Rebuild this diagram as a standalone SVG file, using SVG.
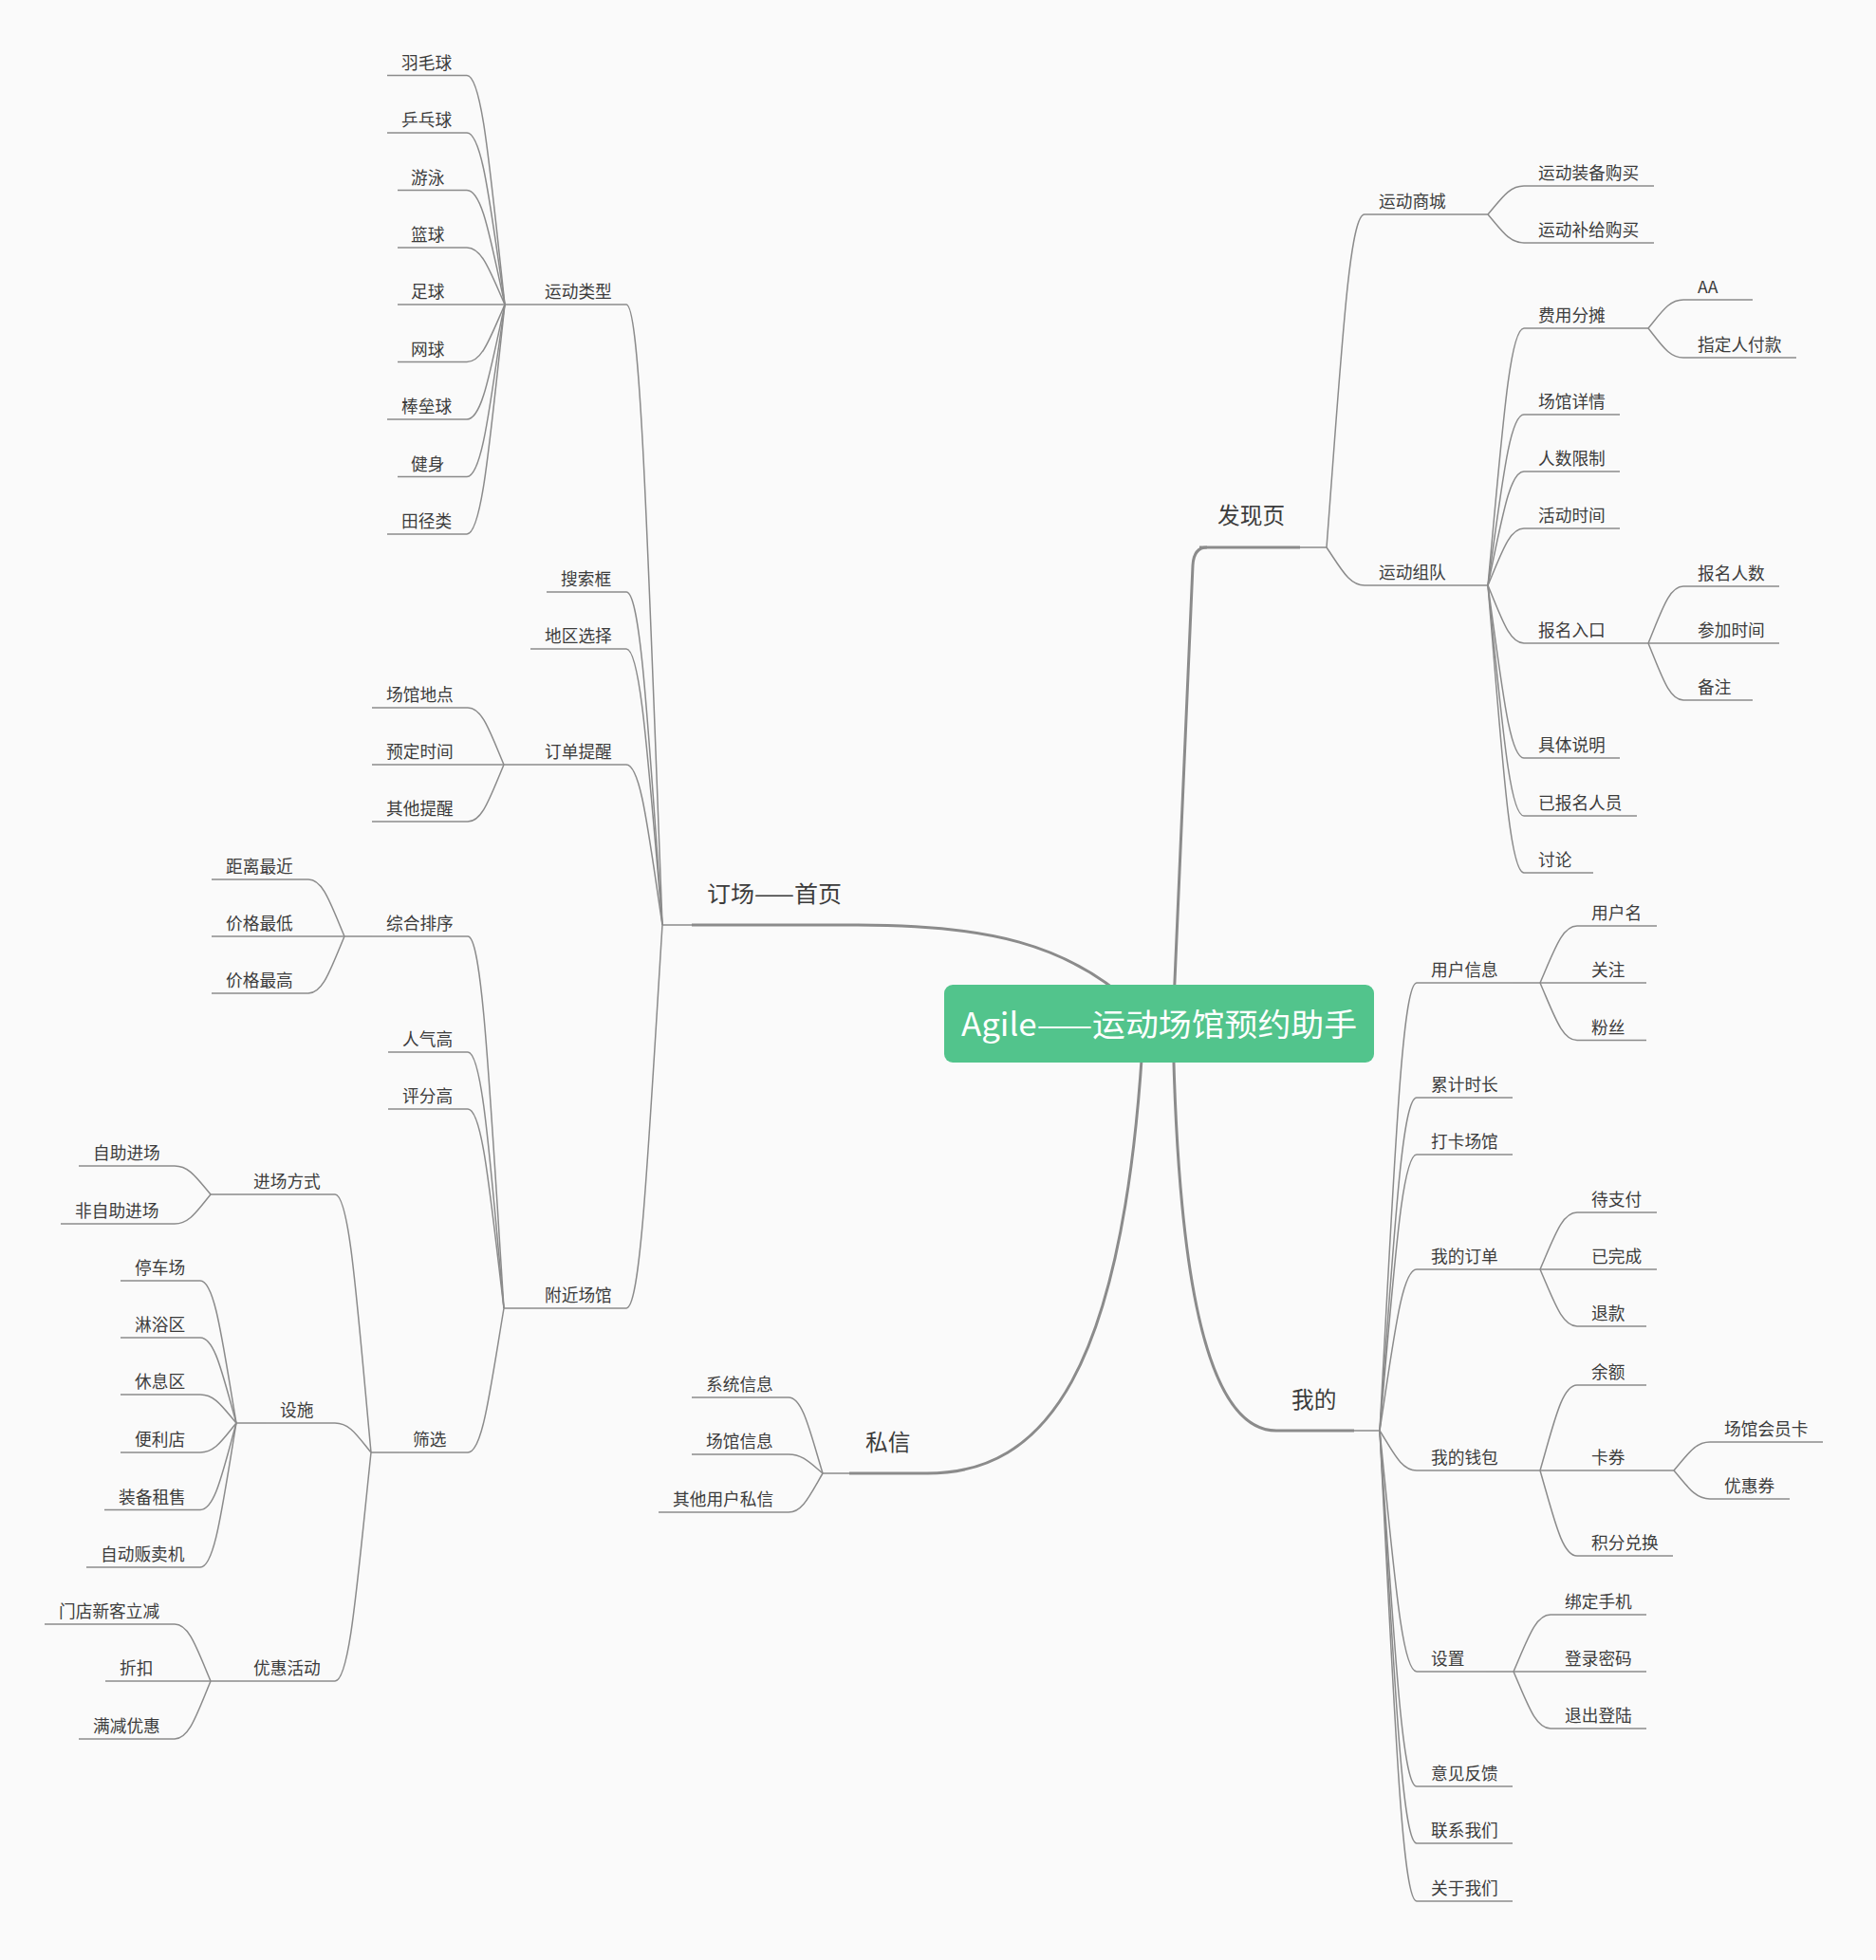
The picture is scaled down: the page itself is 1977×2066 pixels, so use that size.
<svg xmlns="http://www.w3.org/2000/svg" width="1977" height="2066" viewBox="0 0 1977 2066">
<style>
.c{fill:none;stroke:#8b8b8b;stroke-width:1.5}
.m{fill:none;stroke:#8b8b8b;stroke-width:3}
.u{stroke:#8b8b8b;stroke-width:1.5}
.um{stroke:#8b8b8b;stroke-width:3}
text{font-family:'Noto Sans CJK SC','Noto Sans',sans-serif;fill:#3c3c3c;font-size:17.7px}
.tm{font-size:23.7px}
.tr{font-size:33.5px;fill:#ffffff}
</style>
<rect width="1977" height="2066" fill="#fafafa"/>
<g id="connectors">
<path class="m" d="M904,975 C1040,975 1125,995 1195,1060"/>
<path class="m" d="M1236,1080 C1246,850 1254,680 1257,596 Q1258,577 1272,577"/>
<path class="m" d="M977,1553 C1100,1553 1185,1450 1205,1085"/>
<path class="m" d="M1236,1080 C1240,1300 1262,1508 1345,1508"/>
<path class="c" d="M698,975H729 M532,321H559 M531,806H559 M531,1379H559 M363,987H392 M391,1531H420 M222,1259H252 M249,1500H280 M222,1772H252 M867,1553H895 M1370,577H1398 M1539,226H1568 M1539,617H1568 M1707,346H1737 M1707,678H1737 M1427,1508H1454 M1594,1036H1623 M1594,1338H1623 M1594,1550H1623 M1735,1550H1764 M1566,1762H1595"/>
<path class="c" d="M660,321 C675.2,321 682.8,582.6 698,975"/>
<path class="c" d="M660,624 C675.2,624 682.8,764.4 698,975"/>
<path class="c" d="M660,684 C675.2,684 682.8,800.4 698,975"/>
<path class="c" d="M660,806 C675.2,806 682.8,873.6 698,975"/>
<path class="c" d="M660,1379 C675.2,1379 682.8,1217.4 698,975"/>
<path class="c" d="M492,79.5 C508,79.5 516,176.1 532,321"/>
<path class="c" d="M492,140 C508,140 516,212.4 532,321"/>
<path class="c" d="M492,200.5 C508,200.5 516,248.7 532,321"/>
<path class="c" d="M492,261 C508,261 516,285 532,321"/>
<path class="c" d="M492,321 H532"/>
<path class="c" d="M492,381.5 C508,381.5 516,357.3 532,321"/>
<path class="c" d="M492,442 C508,442 516,393.6 532,321"/>
<path class="c" d="M492,502.5 C508,502.5 516,429.9 532,321"/>
<path class="c" d="M492,563 C508,563 516,466.2 532,321"/>
<path class="c" d="M493,746 C508.2,746 515.8,770 531,806"/>
<path class="c" d="M493,806 H531"/>
<path class="c" d="M493,866 C508.2,866 515.8,842 531,806"/>
<path class="c" d="M493,987 C508.2,987 515.8,1143.8 531,1379"/>
<path class="c" d="M493,1109 C508.2,1109 515.8,1217 531,1379"/>
<path class="c" d="M493,1169 C508.2,1169 515.8,1253 531,1379"/>
<path class="c" d="M493,1531 C508.2,1531 515.8,1470.2 531,1379"/>
<path class="c" d="M325,927 C340.2,927 347.8,951 363,987"/>
<path class="c" d="M325,987 H363"/>
<path class="c" d="M325,1047 C340.2,1047 347.8,1023 363,987"/>
<path class="c" d="M353,1259 C368.2,1259 375.8,1367.8 391,1531"/>
<path class="c" d="M353,1500 C368.2,1500 375.8,1512.4 391,1531"/>
<path class="c" d="M353,1772 C368.2,1772 375.8,1675.6 391,1531"/>
<path class="c" d="M184,1229 C199.2,1229 206.8,1241 222,1259"/>
<path class="c" d="M184,1290 C199.2,1290 206.8,1277.6 222,1259"/>
<path class="c" d="M211,1350 C226.2,1350 233.8,1410 249,1500"/>
<path class="c" d="M211,1410 C226.2,1410 233.8,1446 249,1500"/>
<path class="c" d="M211,1470 C226.2,1470 233.8,1482 249,1500"/>
<path class="c" d="M211,1531 C226.2,1531 233.8,1518.6 249,1500"/>
<path class="c" d="M211,1591.5 C226.2,1591.5 233.8,1554.9 249,1500"/>
<path class="c" d="M211,1652 C226.2,1652 233.8,1591.2 249,1500"/>
<path class="c" d="M184,1712 C199.2,1712 206.8,1736 222,1772"/>
<path class="c" d="M184,1772 H222"/>
<path class="c" d="M184,1833 C199.2,1833 206.8,1808.6 222,1772"/>
<path class="c" d="M831,1473 C845.4,1473 852.6,1505 867,1553"/>
<path class="c" d="M831,1533 C845.4,1533 852.6,1541 867,1553"/>
<path class="c" d="M831,1594 C845.4,1594 852.6,1577.6 867,1553"/>
<path class="c" d="M1438,226 C1422,226 1414,366 1398,577"/>
<path class="c" d="M1438,617 C1422,617 1414,600.6 1398,577"/>
<path class="c" d="M1606,196 C1590.8,196 1583.2,208 1568,226"/>
<path class="c" d="M1606,256 C1590.8,256 1583.2,244 1568,226"/>
<path class="c" d="M1606,346 C1590.8,346 1583.2,454.4 1568,617"/>
<path class="c" d="M1606,437 C1590.8,437 1583.2,509 1568,617"/>
<path class="c" d="M1606,497 C1590.8,497 1583.2,545 1568,617"/>
<path class="c" d="M1606,557 C1590.8,557 1583.2,581 1568,617"/>
<path class="c" d="M1606,678 C1590.8,678 1583.2,653.6 1568,617"/>
<path class="c" d="M1606,799 C1590.8,799 1583.2,726.2 1568,617"/>
<path class="c" d="M1606,860 C1590.8,860 1583.2,762.8 1568,617"/>
<path class="c" d="M1606,920 C1590.8,920 1583.2,798.8 1568,617"/>
<path class="c" d="M1774,316 C1759.2,316 1751.8,328 1737,346"/>
<path class="c" d="M1774,377 C1759.2,377 1751.8,364.6 1737,346"/>
<path class="c" d="M1774,618 C1759.2,618 1751.8,642 1737,678"/>
<path class="c" d="M1774,678 H1737"/>
<path class="c" d="M1774,738 C1759.2,738 1751.8,714 1737,678"/>
<path class="c" d="M1493,1036 C1477.4,1036 1469.6,1224.8 1454,1508"/>
<path class="c" d="M1493,1157 C1477.4,1157 1469.6,1297.4 1454,1508"/>
<path class="c" d="M1493,1217 C1477.4,1217 1469.6,1333.4 1454,1508"/>
<path class="c" d="M1493,1338 C1477.4,1338 1469.6,1406 1454,1508"/>
<path class="c" d="M1493,1550 C1477.4,1550 1469.6,1533.2 1454,1508"/>
<path class="c" d="M1493,1762 C1477.4,1762 1469.6,1660.4 1454,1508"/>
<path class="c" d="M1493,1883 C1477.4,1883 1469.6,1733 1454,1508"/>
<path class="c" d="M1493,1943 C1477.4,1943 1469.6,1769 1454,1508"/>
<path class="c" d="M1493,2004 C1477.4,2004 1469.6,1805.6 1454,1508"/>
<path class="c" d="M1662,976 C1646.4,976 1638.6,1000 1623,1036"/>
<path class="c" d="M1662,1036 H1623"/>
<path class="c" d="M1662,1096.5 C1646.4,1096.5 1638.6,1072.3 1623,1036"/>
<path class="c" d="M1662,1278 C1646.4,1278 1638.6,1302 1623,1338"/>
<path class="c" d="M1662,1338 H1623"/>
<path class="c" d="M1662,1398 C1646.4,1398 1638.6,1374 1623,1338"/>
<path class="c" d="M1662,1460 C1646.4,1460 1638.6,1496 1623,1550"/>
<path class="c" d="M1662,1550 H1623"/>
<path class="c" d="M1662,1640 C1646.4,1640 1638.6,1604 1623,1550"/>
<path class="c" d="M1802,1520 C1786.8,1520 1779.2,1532 1764,1550"/>
<path class="c" d="M1802,1580 C1786.8,1580 1779.2,1568 1764,1550"/>
<path class="c" d="M1634,1702 C1618.4,1702 1610.6,1726 1595,1762"/>
<path class="c" d="M1634,1762 H1595"/>
<path class="c" d="M1634,1822 C1618.4,1822 1610.6,1798 1595,1762"/>
</g>

<g id="root">
<rect x="995" y="1038" width="453" height="82" rx="9" fill="#52c48c"/>
<text class="tr" x="1013" y="1092" textLength="417" lengthAdjust="spacingAndGlyphs">Agile——运动场馆预约助手</text>
</g>

<g id="n-dingchang"><line class="um" x1="729" y1="975" x2="904" y2="975"/><text class="tm" x="745" y="950.5" textLength="142" lengthAdjust="spacingAndGlyphs">订场——首页</text></g>
<g id="n-yundongleixing"><line class="u" x1="559" y1="321" x2="660" y2="321"/><text x="574" y="314">运动类型</text></g>
<g id="n-yumaoqiu"><line class="u" x1="408" y1="79.5" x2="492" y2="79.5"/><text x="423" y="72.5">羽毛球</text></g>
<g id="n-pingpangqiu"><line class="u" x1="408" y1="140" x2="492" y2="140"/><text x="423" y="133">乒乓球</text></g>
<g id="n-youyong"><line class="u" x1="419" y1="200.5" x2="492" y2="200.5"/><text x="433" y="193.5">游泳</text></g>
<g id="n-lanqiu"><line class="u" x1="419" y1="261" x2="492" y2="261"/><text x="433" y="254">篮球</text></g>
<g id="n-zuqiu"><line class="u" x1="419" y1="321" x2="492" y2="321"/><text x="433" y="314">足球</text></g>
<g id="n-wangqiu"><line class="u" x1="419" y1="381.5" x2="492" y2="381.5"/><text x="433" y="374.5">网球</text></g>
<g id="n-banglei"><line class="u" x1="408" y1="442" x2="492" y2="442"/><text x="423" y="435">棒垒球</text></g>
<g id="n-jianshen"><line class="u" x1="419" y1="502.5" x2="492" y2="502.5"/><text x="433" y="495.5">健身</text></g>
<g id="n-tianjing"><line class="u" x1="408" y1="563" x2="492" y2="563"/><text x="423" y="556">田径类</text></g>
<g id="n-sousuokuang"><line class="u" x1="576" y1="624" x2="660" y2="624"/><text x="591" y="617">搜索框</text></g>
<g id="n-diquxuanze"><line class="u" x1="559" y1="684" x2="660" y2="684"/><text x="574" y="677">地区选择</text></g>
<g id="n-dingdantixing"><line class="u" x1="559" y1="806" x2="660" y2="806"/><text x="574" y="799">订单提醒</text></g>
<g id="n-changguandidian"><line class="u" x1="392" y1="746" x2="493" y2="746"/><text x="407" y="739">场馆地点</text></g>
<g id="n-yudingshijian"><line class="u" x1="392" y1="806" x2="493" y2="806"/><text x="407" y="799">预定时间</text></g>
<g id="n-qitatixing"><line class="u" x1="392" y1="866" x2="493" y2="866"/><text x="407" y="859">其他提醒</text></g>
<g id="n-fujinchangguan"><line class="u" x1="559" y1="1379" x2="660" y2="1379"/><text x="574" y="1372">附近场馆</text></g>
<g id="n-zonghepaixu"><line class="u" x1="392" y1="987" x2="493" y2="987"/><text x="407" y="980">综合排序</text></g>
<g id="n-julizuijin"><line class="u" x1="223" y1="927" x2="325" y2="927"/><text x="238" y="920">距离最近</text></g>
<g id="n-jiagezuidi"><line class="u" x1="223" y1="987" x2="325" y2="987"/><text x="238" y="980">价格最低</text></g>
<g id="n-jiagezuigao"><line class="u" x1="223" y1="1047" x2="325" y2="1047"/><text x="238" y="1040">价格最高</text></g>
<g id="n-renqigao"><line class="u" x1="409" y1="1109" x2="493" y2="1109"/><text x="424" y="1102">人气高</text></g>
<g id="n-pingfengao"><line class="u" x1="409" y1="1169" x2="493" y2="1169"/><text x="424" y="1162">评分高</text></g>
<g id="n-shaixuan"><line class="u" x1="420" y1="1531" x2="493" y2="1531"/><text x="435" y="1524">筛选</text></g>
<g id="n-jinchangfangshi"><line class="u" x1="252" y1="1259" x2="353" y2="1259"/><text x="267" y="1252">进场方式</text></g>
<g id="n-zizhujinchang"><line class="u" x1="83" y1="1229" x2="184" y2="1229"/><text x="98" y="1222">自助进场</text></g>
<g id="n-feizizhujinchang"><line class="u" x1="64" y1="1290" x2="184" y2="1290"/><text x="79" y="1283">非自助进场</text></g>
<g id="n-sheshi"><line class="u" x1="280" y1="1500" x2="353" y2="1500"/><text x="295" y="1493">设施</text></g>
<g id="n-tingchechang"><line class="u" x1="127" y1="1350" x2="211" y2="1350"/><text x="142" y="1343">停车场</text></g>
<g id="n-linyuqu"><line class="u" x1="127" y1="1410" x2="211" y2="1410"/><text x="142" y="1403">淋浴区</text></g>
<g id="n-xiuxiqu"><line class="u" x1="127" y1="1470" x2="211" y2="1470"/><text x="142" y="1463">休息区</text></g>
<g id="n-bianlidian"><line class="u" x1="127" y1="1531" x2="211" y2="1531"/><text x="142" y="1524">便利店</text></g>
<g id="n-zhuangbeizushou"><line class="u" x1="110" y1="1591.5" x2="211" y2="1591.5"/><text x="125" y="1584.5">装备租售</text></g>
<g id="n-zidongfanmaiji"><line class="u" x1="91" y1="1652" x2="211" y2="1652"/><text x="106" y="1645">自动贩卖机</text></g>
<g id="n-youhuihuodong"><line class="u" x1="252" y1="1772" x2="353" y2="1772"/><text x="267" y="1765">优惠活动</text></g>
<g id="n-mendianxinke"><line class="u" x1="47" y1="1712" x2="184" y2="1712"/><text x="62" y="1705">门店新客立减</text></g>
<g id="n-zhekou"><line class="u" x1="111" y1="1772" x2="184" y2="1772"/><text x="126" y="1765">折扣</text></g>
<g id="n-manjianyouhui"><line class="u" x1="83" y1="1833" x2="184" y2="1833"/><text x="98" y="1826">满减优惠</text></g>

<g id="n-sixin"><line class="um" x1="895" y1="1553" x2="977" y2="1553"/><text class="tm" x="912" y="1528.5">私信</text></g>
<g id="n-xitongxinxi"><line class="u" x1="729" y1="1473" x2="831" y2="1473"/><text x="744" y="1466">系统信息</text></g>
<g id="n-changguanxinxi"><line class="u" x1="729" y1="1533" x2="831" y2="1533"/><text x="744" y="1526">场馆信息</text></g>
<g id="n-qitayonghu"><line class="u" x1="694" y1="1594" x2="831" y2="1594"/><text x="709" y="1587">其他用户私信</text></g>

<g id="n-faxianye"><line class="um" x1="1264" y1="577" x2="1370" y2="577"/><text class="tm" x="1283" y="552">发现页</text></g>
<g id="n-yundongshangcheng"><line class="u" x1="1438" y1="226" x2="1539" y2="226"/><text x="1453" y="219">运动商城</text></g>
<g id="n-zhuangbeigoumai"><line class="u" x1="1606" y1="196" x2="1743" y2="196"/><text x="1621" y="189">运动装备购买</text></g>
<g id="n-bujigoumai"><line class="u" x1="1606" y1="256" x2="1743" y2="256"/><text x="1621" y="249">运动补给购买</text></g>
<g id="n-yundongzudui"><line class="u" x1="1438" y1="617" x2="1539" y2="617"/><text x="1453" y="610">运动组队</text></g>
<g id="n-feiyongfentan"><line class="u" x1="1606" y1="346" x2="1707" y2="346"/><text x="1621" y="339">费用分摊</text></g>
<g id="n-aa"><line class="u" x1="1774" y1="316" x2="1847" y2="316"/><text x="1789" y="309">AA</text></g>
<g id="n-zhidingren"><line class="u" x1="1774" y1="377" x2="1893" y2="377"/><text x="1789" y="370">指定人付款</text></g>
<g id="n-changguanxiangqing"><line class="u" x1="1606" y1="437" x2="1707" y2="437"/><text x="1621" y="430">场馆详情</text></g>
<g id="n-renshuxianzhi"><line class="u" x1="1606" y1="497" x2="1707" y2="497"/><text x="1621" y="490">人数限制</text></g>
<g id="n-huodongshijian"><line class="u" x1="1606" y1="557" x2="1707" y2="557"/><text x="1621" y="550">活动时间</text></g>
<g id="n-baomingrukou"><line class="u" x1="1606" y1="678" x2="1707" y2="678"/><text x="1621" y="671">报名入口</text></g>
<g id="n-baomingrenshu"><line class="u" x1="1774" y1="618" x2="1875" y2="618"/><text x="1789" y="611">报名人数</text></g>
<g id="n-canjiashijian"><line class="u" x1="1774" y1="678" x2="1875" y2="678"/><text x="1789" y="671">参加时间</text></g>
<g id="n-beizhu"><line class="u" x1="1774" y1="738" x2="1847" y2="738"/><text x="1789" y="731">备注</text></g>
<g id="n-jutishuoming"><line class="u" x1="1606" y1="799" x2="1707" y2="799"/><text x="1621" y="792">具体说明</text></g>
<g id="n-yibaomingrenyuan"><line class="u" x1="1606" y1="860" x2="1725" y2="860"/><text x="1621" y="853">已报名人员</text></g>
<g id="n-taolun"><line class="u" x1="1606" y1="920" x2="1679" y2="920"/><text x="1621" y="913">讨论</text></g>

<g id="n-wode"><line class="um" x1="1345" y1="1508" x2="1427" y2="1508"/><text class="tm" x="1361" y="1483.5">我的</text></g>
<g id="n-yonghuxinxi"><line class="u" x1="1493" y1="1036" x2="1594" y2="1036"/><text x="1508" y="1029">用户信息</text></g>
<g id="n-yonghuming"><line class="u" x1="1662" y1="976" x2="1746" y2="976"/><text x="1677" y="969">用户名</text></g>
<g id="n-guanzhu"><line class="u" x1="1662" y1="1036" x2="1735" y2="1036"/><text x="1677" y="1029">关注</text></g>
<g id="n-fensi"><line class="u" x1="1662" y1="1096.5" x2="1735" y2="1096.5"/><text x="1677" y="1089.5">粉丝</text></g>
<g id="n-leijishichang"><line class="u" x1="1493" y1="1157" x2="1594" y2="1157"/><text x="1508" y="1150">累计时长</text></g>
<g id="n-dakachangguan"><line class="u" x1="1493" y1="1217" x2="1594" y2="1217"/><text x="1508" y="1210">打卡场馆</text></g>
<g id="n-wodedingdan"><line class="u" x1="1493" y1="1338" x2="1594" y2="1338"/><text x="1508" y="1331">我的订单</text></g>
<g id="n-daizhifu"><line class="u" x1="1662" y1="1278" x2="1746" y2="1278"/><text x="1677" y="1271">待支付</text></g>
<g id="n-yiwancheng"><line class="u" x1="1662" y1="1338" x2="1746" y2="1338"/><text x="1677" y="1331">已完成</text></g>
<g id="n-tuikuan"><line class="u" x1="1662" y1="1398" x2="1735" y2="1398"/><text x="1677" y="1391">退款</text></g>
<g id="n-wodeqianbao"><line class="u" x1="1493" y1="1550" x2="1594" y2="1550"/><text x="1508" y="1543">我的钱包</text></g>
<g id="n-yue"><line class="u" x1="1662" y1="1460" x2="1735" y2="1460"/><text x="1677" y="1453">余额</text></g>
<g id="n-kaquan"><line class="u" x1="1662" y1="1550" x2="1735" y2="1550"/><text x="1677" y="1543">卡券</text></g>
<g id="n-huiyuanka"><line class="u" x1="1802" y1="1520" x2="1921" y2="1520"/><text x="1817" y="1513">场馆会员卡</text></g>
<g id="n-youhuiquan"><line class="u" x1="1802" y1="1580" x2="1886" y2="1580"/><text x="1817" y="1573">优惠券</text></g>
<g id="n-jifenduihuan"><line class="u" x1="1662" y1="1640" x2="1763" y2="1640"/><text x="1677" y="1633">积分兑换</text></g>
<g id="n-shezhi"><line class="u" x1="1493" y1="1762" x2="1566" y2="1762"/><text x="1508" y="1755">设置</text></g>
<g id="n-bangdingshouji"><line class="u" x1="1634" y1="1702" x2="1735" y2="1702"/><text x="1649" y="1695">绑定手机</text></g>
<g id="n-denglumima"><line class="u" x1="1634" y1="1762" x2="1735" y2="1762"/><text x="1649" y="1755">登录密码</text></g>
<g id="n-tuichudenglu"><line class="u" x1="1634" y1="1822" x2="1735" y2="1822"/><text x="1649" y="1815">退出登陆</text></g>
<g id="n-yijianfankui"><line class="u" x1="1493" y1="1883" x2="1594" y2="1883"/><text x="1508" y="1876">意见反馈</text></g>
<g id="n-lianxiwomen"><line class="u" x1="1493" y1="1943" x2="1594" y2="1943"/><text x="1508" y="1936">联系我们</text></g>
<g id="n-guanyuwomen"><line class="u" x1="1493" y1="2004" x2="1594" y2="2004"/><text x="1508" y="1997">关于我们</text></g>
</svg>
